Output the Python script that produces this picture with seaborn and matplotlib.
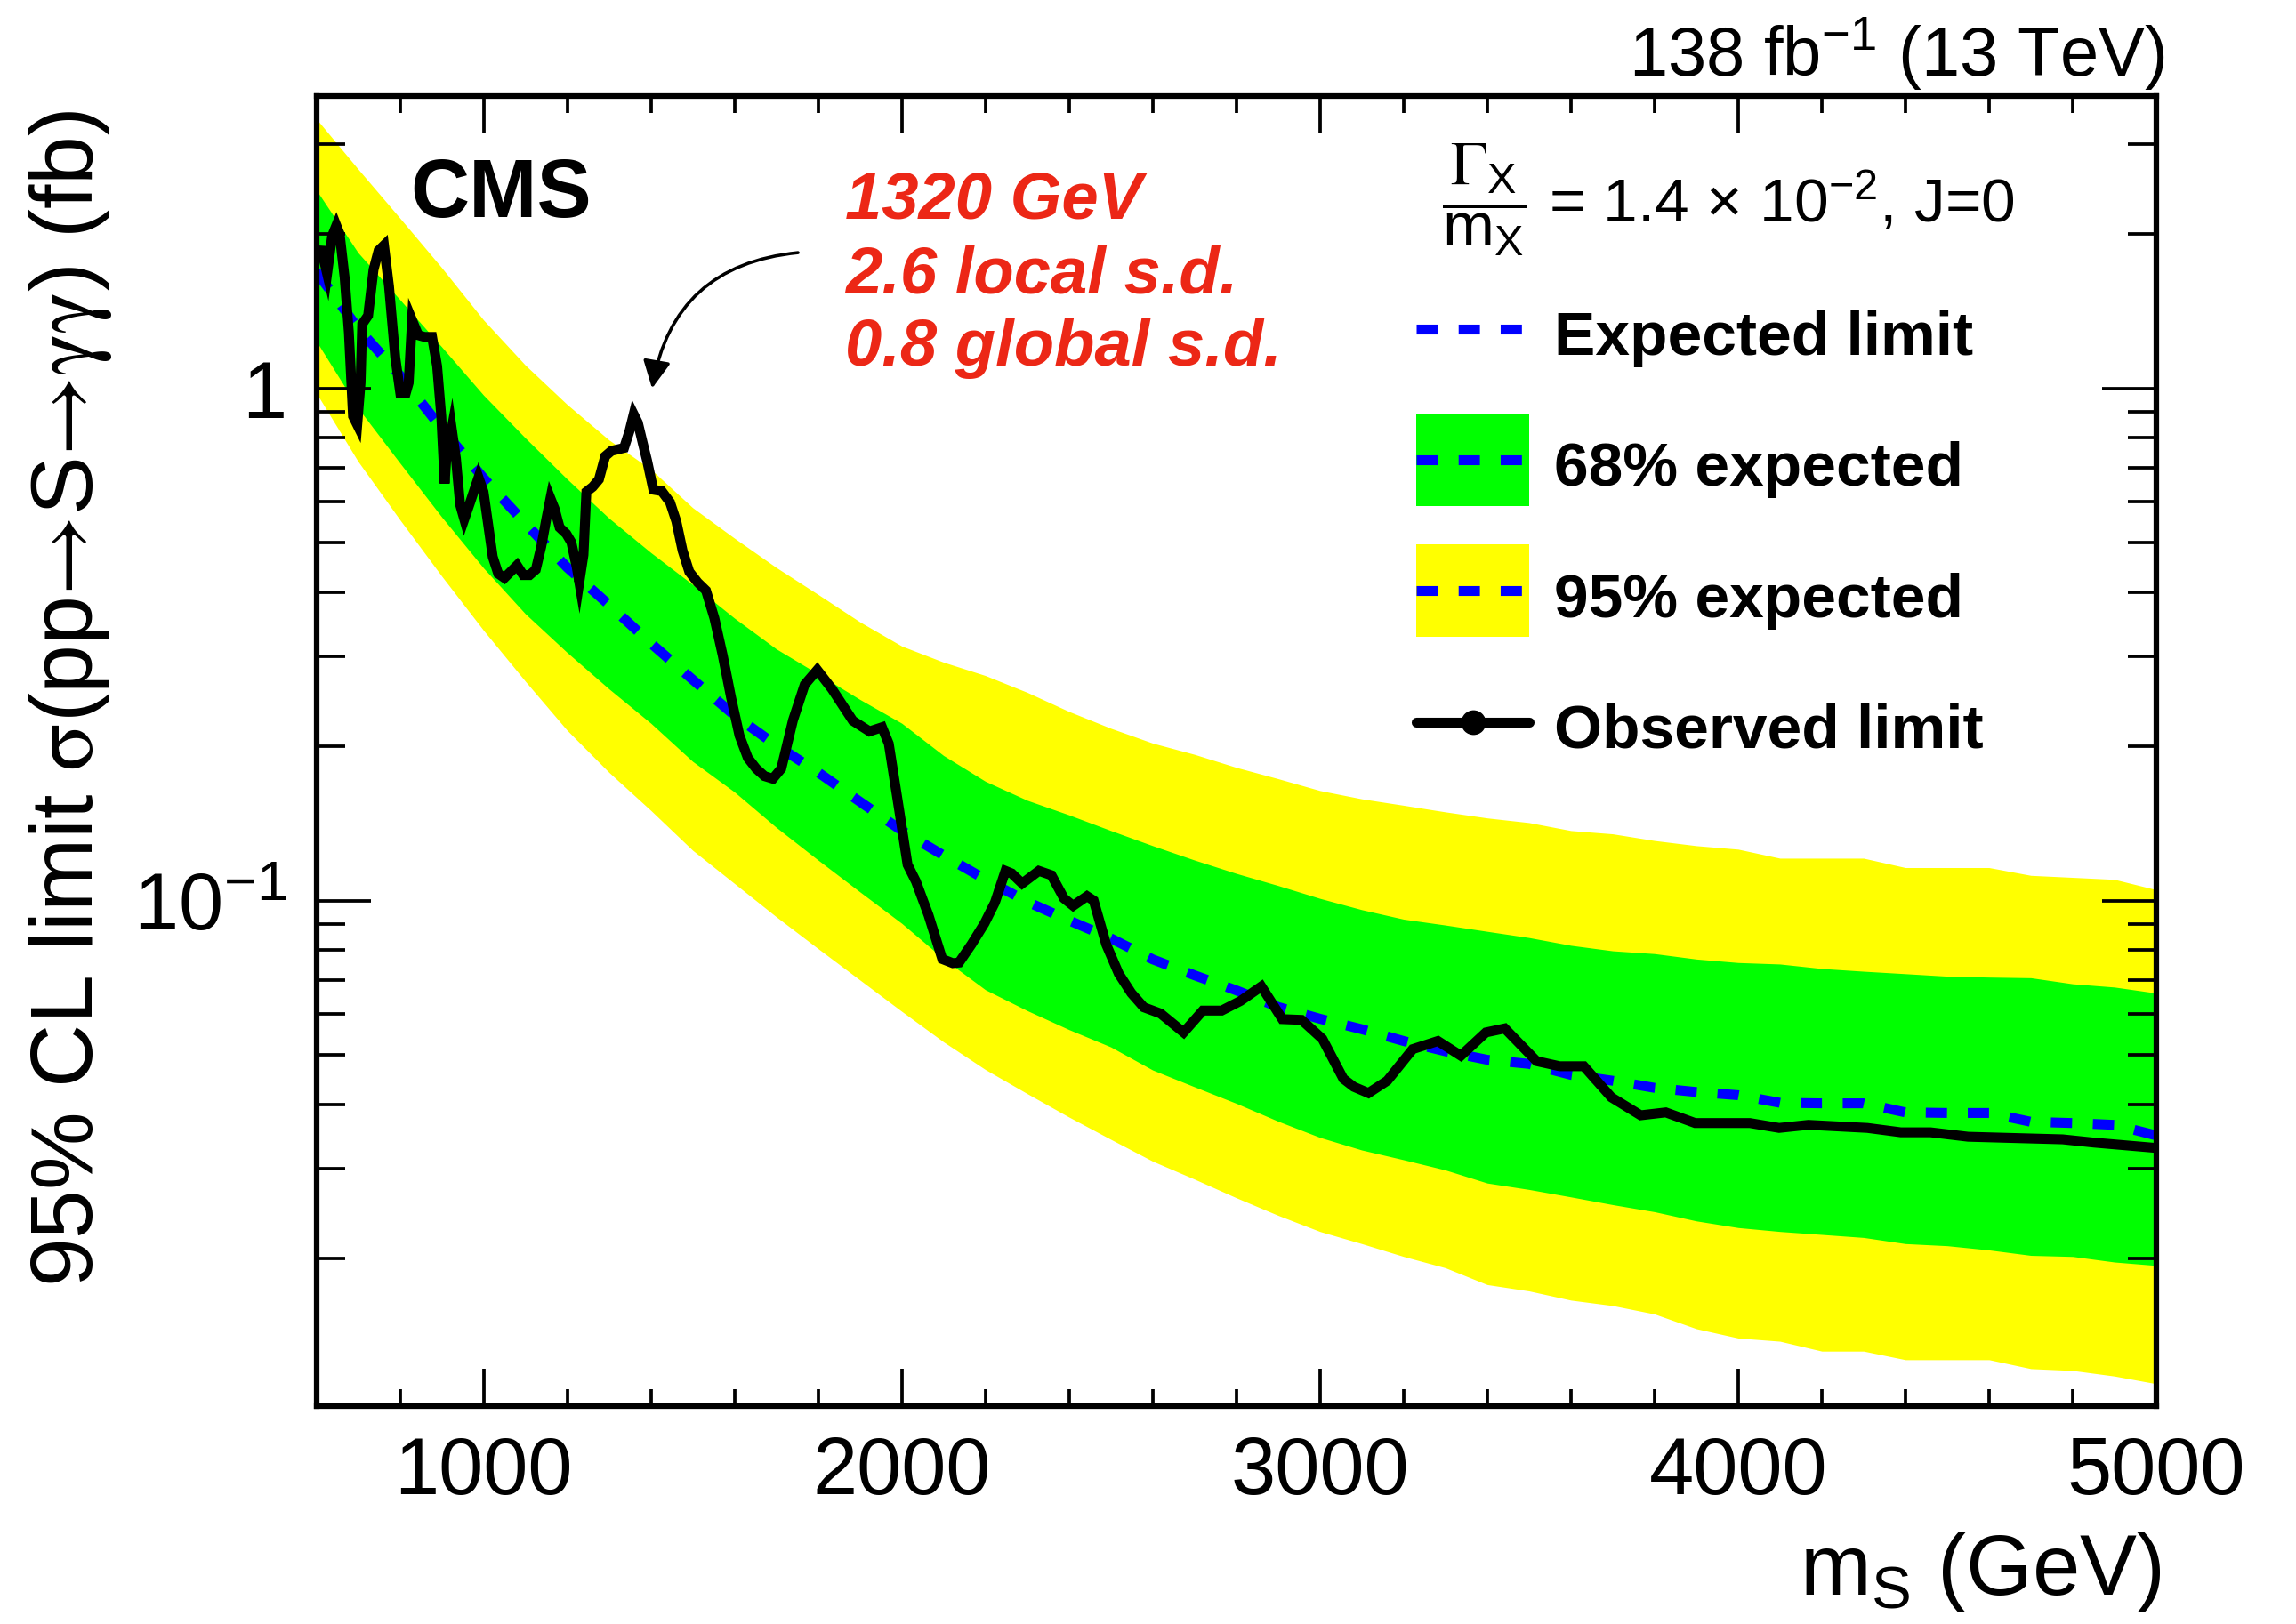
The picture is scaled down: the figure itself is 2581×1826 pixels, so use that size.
import matplotlib
matplotlib.use("Agg")
import matplotlib.pyplot as plt
import seaborn as sns
import pandas as pd
from matplotlib.lines import Line2D
from matplotlib.patches import Patch
from matplotlib.transforms import Affine2D
from matplotlib.legend_handler import HandlerLine2D
from matplotlib.ticker import MultipleLocator, LogLocator, NullFormatter, FixedLocator, FixedFormatter

# ---- expected limit and bands on a regular mass grid (GeV, fb) ----
mass_grid = [600, 700, 800, 900, 1000, 1100, 1200, 1300, 1400, 1500, 1600, 1700, 1800, 1900, 2000,
             2100, 2200, 2300, 2400, 2500, 2600, 2700, 2800, 2900, 3000, 3100, 3200, 3300, 3400, 3500,
             3600, 3700, 3800, 3900, 4000, 4100, 4200, 4300, 4400, 4500, 4600, 4700, 4800, 4900, 5000]

expected = [1.69, 1.31, 1.06, 0.835, 0.668, 0.545, 0.447, 0.378, 0.318, 0.270, 0.230, 0.201, 0.178, 0.156, 0.137,
            0.1225, 0.110, 0.0995, 0.0915, 0.0844, 0.0768, 0.0715, 0.0668, 0.0620, 0.0588, 0.0561, 0.0532, 0.0508, 0.0489, 0.0480,
            0.0457, 0.0445, 0.0431, 0.0423, 0.0417, 0.0403, 0.0402, 0.0402, 0.0386, 0.0385, 0.0385, 0.0370, 0.0368, 0.0365, 0.0348]

band68_high = [2.44, 1.84, 1.49, 1.205, 0.97, 0.80, 0.665, 0.558, 0.478, 0.414, 0.356, 0.310, 0.277, 0.247, 0.222,
               0.192, 0.171, 0.157, 0.147, 0.137, 0.128, 0.120, 0.113, 0.107, 0.101, 0.096, 0.092, 0.0896, 0.0871, 0.0847,
               0.0818, 0.0798, 0.0788, 0.0769, 0.0757, 0.0752, 0.0737, 0.0728, 0.0720, 0.0712, 0.0709, 0.0707, 0.0688, 0.0678, 0.0660]

band68_low = [1.237, 0.915, 0.715, 0.561, 0.446, 0.363, 0.305, 0.259, 0.222, 0.187, 0.163, 0.139, 0.120, 0.104, 0.0903,
              0.077, 0.067, 0.061, 0.056, 0.0518, 0.0467, 0.0433, 0.0402, 0.0371, 0.0345, 0.0326, 0.0312, 0.0298, 0.0281, 0.0273,
              0.0264, 0.0255, 0.0247, 0.0237, 0.0230, 0.0226, 0.0223, 0.0220, 0.0214, 0.0212, 0.0208, 0.0203, 0.0202, 0.0197, 0.0194]

band95_high = [3.36, 2.68, 2.15, 1.72, 1.36, 1.11, 0.93, 0.793, 0.695, 0.585, 0.51, 0.447, 0.396, 0.350, 0.314,
               0.292, 0.275, 0.255, 0.234, 0.217, 0.203, 0.193, 0.182, 0.173, 0.164, 0.158, 0.1535, 0.149, 0.145, 0.142,
               0.137, 0.135, 0.131, 0.128, 0.126, 0.121, 0.121, 0.121, 0.116, 0.116, 0.116, 0.112, 0.111, 0.110, 0.105]

band95_low = [0.98, 0.72, 0.554, 0.43, 0.337, 0.268, 0.215, 0.178, 0.150, 0.1254, 0.108, 0.093, 0.0806, 0.070, 0.0608,
              0.053, 0.0468, 0.042, 0.0378, 0.0342, 0.031, 0.0286, 0.0263, 0.0243, 0.0226, 0.0214, 0.0202, 0.0192, 0.0178, 0.0173,
              0.0166, 0.0162, 0.0156, 0.0146, 0.0140, 0.0138, 0.0132, 0.0132, 0.0127, 0.0127, 0.0127, 0.0122, 0.0121, 0.0118, 0.0114]

# ---- observed limit ----
obs_mass = [600, 613, 626, 638, 648, 656, 668, 678, 688, 698,
            706, 710, 724, 737, 749, 762, 774, 789, 801, 814,
            821, 829, 844, 859, 877, 889, 899, 907, 911, 924,
            934, 944, 954, 968, 988, 1000, 1010, 1022, 1035, 1050,
            1065, 1080, 1095, 1110, 1125, 1138, 1150, 1160, 1170, 1182,
            1198, 1210, 1223, 1229, 1239, 1246, 1261, 1276, 1291, 1306,
            1336, 1349, 1359, 1369, 1381, 1391, 1406, 1426, 1446, 1461,
            1476, 1492, 1512, 1532, 1552, 1572, 1592, 1612, 1632, 1652,
            1672, 1692, 1712, 1740, 1768, 1798, 1833, 1883, 1923, 1953,
            1969, 1994, 2014, 2034, 2064, 2097, 2122, 2137, 2167, 2198,
            2223, 2248, 2263, 2288, 2328, 2358, 2388, 2410, 2443, 2459,
            2489, 2519, 2549, 2579, 2619, 2674, 2720, 2765, 2810, 2860,
            2910, 2956, 3006, 3056, 3081, 3116, 3161, 3222, 3282, 3337,
            3397, 3442, 3518, 3573, 3631, 3697, 3767, 3827, 3897, 4028,
            4098, 4168, 4309, 4389, 4460, 4550, 4776, 4851, 5000]

obs_limit = [1.86, 1.857, 1.674, 1.984, 2.079, 2.0, 1.643, 1.285, 0.882, 0.849,
             1.025, 1.335, 1.387, 1.705, 1.857, 1.902, 1.58, 1.148, 0.978, 0.978,
             1.025, 1.36, 1.27, 1.26, 1.26, 1.105, 0.882, 0.652, 0.73, 0.834,
             0.73, 0.593, 0.555, 0.599, 0.67, 0.628, 0.55, 0.469, 0.435, 0.4265,
             0.4387, 0.4513, 0.432, 0.432, 0.4428, 0.491, 0.555, 0.61, 0.582, 0.535,
             0.52, 0.5005, 0.447, 0.418, 0.473, 0.628, 0.642, 0.664, 0.737, 0.755,
             0.765, 0.825, 0.89, 0.857, 0.78, 0.723, 0.634, 0.63, 0.599, 0.55,
             0.482, 0.4385, 0.418, 0.403, 0.356, 0.301, 0.249, 0.21, 0.19, 0.181,
             0.175, 0.173, 0.181, 0.225, 0.264, 0.282, 0.259, 0.2245, 0.214, 0.218,
             0.2025, 0.150, 0.1175, 0.109, 0.0937, 0.0769, 0.0755, 0.0757, 0.0822, 0.0903,
             0.0992, 0.1143, 0.113, 0.108, 0.1143, 0.1121, 0.101, 0.0977, 0.102, 0.100,
             0.0821, 0.072, 0.066, 0.0619, 0.0602, 0.0553, 0.061, 0.061, 0.0637, 0.068,
             0.0587, 0.0585, 0.0537, 0.0449, 0.0433, 0.0421, 0.0445, 0.0513, 0.0532, 0.0498,
             0.0553, 0.0563, 0.0486, 0.0475, 0.0475, 0.0413, 0.0381, 0.0386, 0.0368, 0.0368,
             0.036, 0.0365, 0.036, 0.0353, 0.0353, 0.0346, 0.0342, 0.0337, 0.0329]

x_ticks = [1000, 2000, 3000, 4000, 5000]
y_ticks = [0.1, 1]
y_tick_labels = [r"$10^{-1}$", "1"]
legend_labels = ["Expected limit", "68% expected", "95% expected", "Observed limit"]


class CenteredLineHandler(HandlerLine2D):
    """Legend line drawn through the vertical middle of the swatch box."""

    def create_artists(self, legend, orig_handle, xdescent, ydescent, width, height, fontsize, trans):
        return super().create_artists(legend, orig_handle, xdescent, 2 * ydescent,
                                      width, height, fontsize, trans)


# ---- style ----
sns.set_style("ticks")
plt.rcParams["font.family"] = ["Liberation Sans", "DejaVu Sans"]
plt.rcParams["mathtext.fontset"] = "custom"
plt.rcParams["mathtext.rm"] = "Liberation Sans"
plt.rcParams["mathtext.it"] = "Liberation Sans:italic"
plt.rcParams["mathtext.bf"] = "Liberation Sans:bold"
plt.rcParams["mathtext.sf"] = "STIXGeneral"
for key in ["text.color", "axes.labelcolor", "xtick.color", "ytick.color", "axes.edgecolor"]:
    plt.rcParams[key] = "black"

BLUE = "#0000ff"
GREEN = "#00ff00"
YELLOW = "#ffff00"
RED = "#ec2716"
LW = 8
DASH = (0, (2.15, 2.1))

W, H = 2581, 1826
fig = plt.figure(figsize=(W / 100, H / 100), dpi=100)
x0, x1, y0, y1 = 355.5, 2424, 108, 1581
ax = fig.add_axes([x0 / W, 1 - y1 / H, (x1 - x0) / W, (y1 - y0) / H])

ax.fill_between(mass_grid, band95_low, band95_high, color=YELLOW, lw=0, zorder=1)
ax.fill_between(mass_grid, band68_low, band68_high, color=GREEN, lw=0, zorder=2)

exp_df = pd.DataFrame({"mass": mass_grid, "limit": expected})
sns.lineplot(data=exp_df, x="mass", y="limit", ax=ax, color=BLUE, lw=LW,
             linestyle=DASH, dash_capstyle="butt", legend=False, zorder=3)
obs_df = pd.DataFrame({"mass": obs_mass, "limit": obs_limit})
sns.lineplot(data=obs_df, x="mass", y="limit", ax=ax, color="black", lw=LW,
             solid_joinstyle="miter", legend=False, zorder=4)

ax.set_yscale("log")
ax.set_xlim(600, 5000)
ax.set_ylim(0.01031, 3.72)
ax.set_xlabel("")
ax.set_ylabel("")

# axes frame and ticks
for s in ax.spines.values():
    s.set_linewidth(4.5)
    s.set_color("black")
    s.set_zorder(10)
ax.xaxis.set_major_locator(FixedLocator(x_ticks))
ax.xaxis.set_minor_locator(MultipleLocator(200))
ax.yaxis.set_major_locator(FixedLocator(y_ticks))
ax.yaxis.set_major_formatter(FixedFormatter(y_tick_labels))
ax.yaxis.set_minor_locator(LogLocator(base=10, subs=[2, 3, 4, 5, 6, 7, 8, 9]))
ax.yaxis.set_minor_formatter(NullFormatter())
ax.tick_params(which="both", direction="in", top=True, right=True, width=2.7,
               color="black", labelcolor="black")
ax.tick_params(axis="x", which="major", length=30, pad=24, labelsize=65)
ax.tick_params(axis="x", which="minor", length=14)
ax.tick_params(axis="y", which="major", length=44, pad=24, labelsize=65)
ax.tick_params(axis="y", which="minor", length=23)
ax.set_axisbelow(False)

# axis titles
fig.text(2429 / W, 1 - 1793 / H, r"m$_{\mathrm{S}}$ (GeV)", ha="right", va="baseline", fontsize=69)
fig.text(80 / W, 1 - 123 / H,
         r"95% CL limit $\mathsf{σ}$(pp$\mathsf{→}$S$\mathsf{→γγ}$) (fb)",
         rotation=90, rotation_mode="anchor", ha="right", va="center", fontsize=71)
fig.text(2433 / W, 1 - 86 / H, r"138 fb$^{-1}$ (13 TeV)", ha="right", va="baseline", fontsize=56)

# experiment label
fig.text(461 / W, 1 - 244 / H, "CMS", ha="left", va="baseline", fontsize=66, fontweight="bold")

# local excess annotation
for txt, base in zip(["1320 GeV", "2.6 local s.d.", "0.8 global s.d."], [246, 329, 411]):
    fig.text(950 / W, 1 - base / H, txt, ha="left", va="baseline", fontsize=53.5,
             fontweight="bold", fontstyle="italic", color=RED)
ax.annotate("", xy=(1403, 1.0), xytext=(1752, 1.84),
            arrowprops=dict(arrowstyle="-|>", connectionstyle="arc3,rad=0.38", lw=2.6,
                            color="black", mutation_scale=47, shrinkA=0, shrinkB=0),
            zorder=6)

# legend header
fig.text(1621 / W, 1 - 225 / H,
         r"$\dfrac{\mathsf{Γ}_{\mathrm{X}}}{\mathrm{m}_{\mathrm{X}}}$ = 1.4 × 10$^{-2}$, J=0",
         ha="left", va="center", fontsize=50)

# legend
h_exp = Line2D([], [], color=BLUE, lw=LW, linestyle=DASH, dash_capstyle="butt")
h68 = (Patch(facecolor=GREEN, edgecolor="none"),
       Line2D([], [], color=BLUE, lw=LW, linestyle=DASH, dash_capstyle="butt"))
h95 = (Patch(facecolor=YELLOW, edgecolor="none"),
       Line2D([], [], color=BLUE, lw=LW, linestyle=DASH, dash_capstyle="butt"))
h_obs = Line2D([], [], color="black", lw=LW, marker="o", markersize=19)
leg = ax.legend([h_exp, h68, h95, h_obs], legend_labels,
                handler_map={Line2D: CenteredLineHandler()},
                loc="upper left", bbox_to_anchor=(0.5978, 0.8575), frameon=False,
                prop={"weight": "bold", "size": 50},
                handlelength=1.83, handleheight=1.93, handletextpad=0.4,
                labelspacing=0.62, borderpad=0, borderaxespad=0)
# drop the entry labels a little so they sit centred on the swatches
for t in leg.get_texts():
    t.set_color("black")
    t.set_transform(t.get_transform() + Affine2D().translate(0, -7))

fig.savefig("out.png", dpi=100)
